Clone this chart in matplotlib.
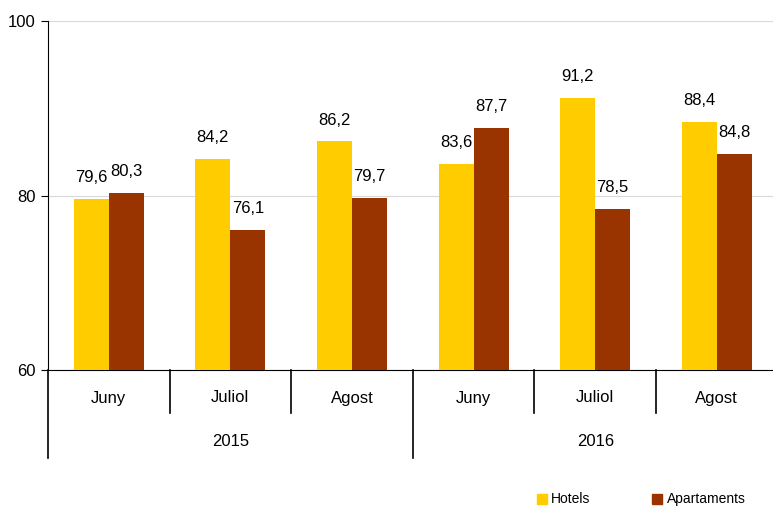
import matplotlib
matplotlib.use("Agg")
import matplotlib.pyplot as plt
import numpy as np

months = ["Juny", "Juliol", "Agost", "Juny", "Juliol", "Agost"]
years = ["2015", "2016"]
hotels = [79.6, 84.2, 86.2, 83.6, 91.2, 88.4]
apartaments = [80.3, 76.1, 79.7, 87.7, 78.5, 84.8]
series_names = ["Hotels", "Apartaments"]
colors = ["#FFCC00", "#993300"]

plt.rcParams['font.family'] = ['Liberation Sans', 'DejaVu Sans']
W, H = 773, 507
fig = plt.figure(figsize=(W/100, H/100), dpi=100)
left_px, right_px, top_px, bot_px = 48, 773, 21, 370
ax = fig.add_axes([left_px/W, 1-bot_px/H, (right_px-left_px)/W, (bot_px-top_px)/H])

gw = 121.6
ax.set_xlim(0, (right_px-left_px)/gw)
ax.set_ylim(60, 100)

x = np.arange(len(months)) + 0.5
bw = 0.288
ax.bar(x - bw/2, hotels, bw, color=colors[0], label=series_names[0], zorder=3)
ax.bar(x + bw/2, apartaments, bw, color=colors[1], label=series_names[1], zorder=3)

fs = 12
for xi, v in zip(x - bw/2, hotels):
    ax.annotate(f"{v:.1f}".replace('.', ','), (xi, v), xytext=(0, 10), textcoords='offset points',
                ha='center', va='bottom', fontsize=fs)
for xi, v in zip(x + bw/2, apartaments):
    ax.annotate(f"{v:.1f}".replace('.', ','), (xi, v), xytext=(0, 10), textcoords='offset points',
                ha='center', va='bottom', fontsize=fs)

ax.set_yticks([60, 80, 100])
ax.set_yticklabels(["60", "80", "100"], fontsize=fs)
ax.yaxis.grid(True, color='#d9d9d9', linewidth=0.8, zorder=0)
ax.set_xticks([])
for s in ['top', 'right']:
    ax.spines[s].set_visible(False)
ax.spines['left'].set_color('black')
ax.spines['bottom'].set_color('black')
ax.tick_params(axis='y', length=5, color='black', pad=4)

# multi-level x axis
trans = ax.get_xaxis_transform()
ph = bot_px - top_px
def yfrac(py):
    return -(py - bot_px) / ph
for i in range(len(months)):
    ax.text(x[i], yfrac(398), months[i], transform=trans, ha='center', va='center', fontsize=fs)
for i in range(1, 6):
    if i == 3:
        continue
    ax.plot([i, i], [0, yfrac(413)], transform=trans, color='black', lw=1.2, clip_on=False)
for i in [0, 3, 6]:
    ax.plot([i, i], [0, yfrac(458)], transform=trans, color='black', lw=1.2, clip_on=False)
for j, yr in enumerate(years):
    ax.text(1.5 + 3*j, yfrac(442), yr, transform=trans, ha='center', va='center', fontsize=fs)

# legend
ly = 499
fig.patches.append(plt.Rectangle((537/W, 1-(ly+5)/H), 10/W, 10/H, transform=fig.transFigure, color=colors[0]))
fig.text(551/W, 1-ly/H, series_names[0], ha='left', va='center', fontsize=10)
fig.patches.append(plt.Rectangle((652/W, 1-(ly+5)/H), 10/W, 10/H, transform=fig.transFigure, color=colors[1]))
fig.text(667/W, 1-ly/H, series_names[1], ha='left', va='center', fontsize=10)

fig.savefig("out.png", dpi=100)
